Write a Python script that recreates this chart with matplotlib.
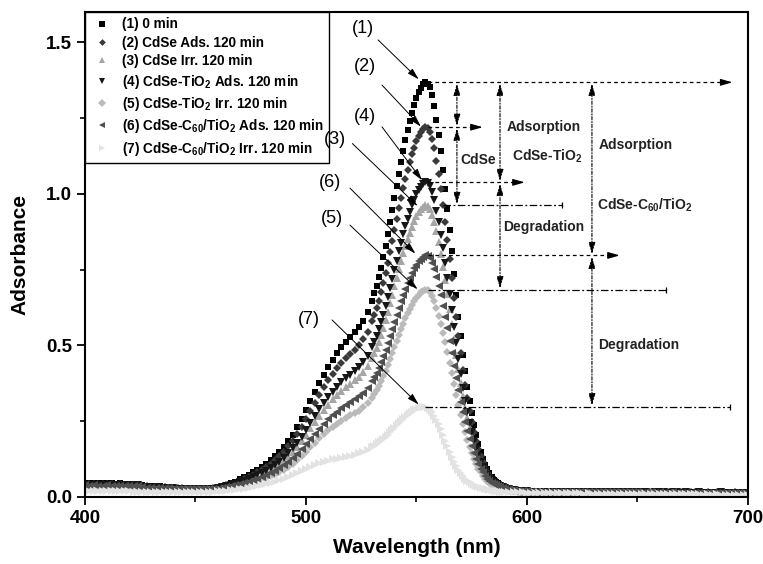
import numpy as np
import matplotlib
matplotlib.use("Agg")
import matplotlib.pyplot as plt

plt.rcParams['font.family'] = ['Liberation Sans', 'DejaVu Sans']
plt.rcParams['mathtext.fontset'] = 'custom'
plt.rcParams['mathtext.rm'] = 'Liberation Sans:bold'
plt.rcParams['mathtext.bf'] = 'Liberation Sans:bold'
plt.rcParams['mathtext.it'] = 'Liberation Sans:bold'

# wavelength grid: 2 nm steps, 1 nm across the band
wl = np.concatenate([np.arange(400, 530, 2), np.arange(530, 591, 1), np.arange(592, 701, 2)])

# (1) 0 min
c1 = ([0.046, 0.045, 0.046, 0.045, 0.045, 0.046, 0.045, 0.044, 0.045, 0.044, 0.044, 0.043, 0.043,
       0.038, 0.037, 0.036, 0.036, 0.035, 0.034, 0.033, 0.032, 0.031, 0.030, 0.030, 0.029]
      + [0.028, 0.028, 0.028, 0.029, 0.030, 0.033, 0.036, 0.040, 0.045, 0.051,
         0.058, 0.065, 0.073, 0.081, 0.090, 0.099, 0.109, 0.121, 0.134, 0.149,
         0.166, 0.185, 0.206, 0.230, 0.257, 0.286, 0.316, 0.346, 0.376, 0.404,
         0.430, 0.453, 0.474, 0.494, 0.512, 0.528, 0.544, 0.561, 0.582, 0.610]
      + [0.648, 0.672, 0.697, 0.726, 0.757, 0.792, 0.828, 0.867, 0.906, 0.947,
         0.987, 1.027, 1.067, 1.105, 1.142, 1.177, 1.210, 1.240, 1.268, 1.293,
         1.316, 1.335, 1.350, 1.362, 1.368, 1.364, 1.352, 1.325, 1.290, 1.245,
         1.195, 1.140, 1.080, 1.016, 0.950, 0.881, 0.810, 0.737, 0.665, 0.595,
         0.530, 0.470, 0.415, 0.364, 0.318, 0.276, 0.238, 0.204, 0.174, 0.148,
         0.126, 0.107, 0.091, 0.078, 0.066, 0.057, 0.050, 0.045, 0.040, 0.036, 0.033]
      + [0.028, 0.025, 0.023, 0.021, 0.020]
      + [0.019, 0.019, 0.018, 0.018, 0.018, 0.018, 0.018, 0.017, 0.018, 0.017,
         0.017, 0.017, 0.017, 0.016, 0.017, 0.017, 0.016, 0.016, 0.017, 0.016,
         0.016, 0.016, 0.016, 0.017, 0.016, 0.016, 0.015, 0.016, 0.016, 0.016,
         0.016, 0.015, 0.016, 0.016, 0.015, 0.015, 0.016, 0.015, 0.015, 0.015,
         0.015, 0.015, 0.016, 0.015, 0.015, 0.014, 0.015, 0.015, 0.014, 0.015])

# (2) CdSe Ads. 120 min
c2 = ([0.043, 0.042, 0.043, 0.042, 0.042, 0.043, 0.042, 0.041, 0.042, 0.041, 0.041, 0.040, 0.040,
       0.036, 0.035, 0.034, 0.034, 0.033, 0.032, 0.031, 0.030, 0.030, 0.029, 0.028, 0.028]
      + [0.027, 0.027, 0.027, 0.028, 0.029, 0.031, 0.034, 0.038, 0.042, 0.047,
         0.054, 0.060, 0.067, 0.074, 0.082, 0.090, 0.099, 0.110, 0.121, 0.135,
         0.150, 0.167, 0.185, 0.207, 0.231, 0.257, 0.283, 0.310, 0.337, 0.362,
         0.385, 0.405, 0.424, 0.442, 0.458, 0.472, 0.486, 0.501, 0.520, 0.545]
      + [0.579, 0.600, 0.622, 0.648, 0.676, 0.707, 0.739, 0.773, 0.808, 0.844,
         0.880, 0.916, 0.952, 0.986, 1.018, 1.049, 1.079, 1.106, 1.131, 1.153,
         1.173, 1.190, 1.204, 1.214, 1.220, 1.216, 1.205, 1.181, 1.150, 1.110,
         1.066, 1.016, 0.963, 0.906, 0.848, 0.786, 0.723, 0.658, 0.594, 0.532,
         0.474, 0.420, 0.371, 0.326, 0.285, 0.248, 0.214, 0.184, 0.157, 0.134,
         0.114, 0.097, 0.083, 0.071, 0.061, 0.053, 0.047, 0.042, 0.038, 0.034, 0.031]
      + [0.027, 0.024, 0.022, 0.020, 0.019]
      + [0.018, 0.018, 0.018, 0.017, 0.018, 0.017, 0.017, 0.017, 0.017, 0.016,
         0.017, 0.016, 0.016, 0.016, 0.016, 0.017, 0.016, 0.016, 0.016, 0.015,
         0.016, 0.015, 0.016, 0.016, 0.015, 0.016, 0.015, 0.015, 0.016, 0.015,
         0.015, 0.015, 0.015, 0.016, 0.015, 0.014, 0.015, 0.015, 0.015, 0.014,
         0.015, 0.014, 0.015, 0.015, 0.014, 0.014, 0.015, 0.014, 0.014, 0.014])

# (3) CdSe Irr. 120 min
c3 = ([0.033, 0.032, 0.033, 0.032, 0.032, 0.033, 0.032, 0.032, 0.032, 0.031, 0.031, 0.031, 0.030,
       0.028, 0.028, 0.027, 0.027, 0.027, 0.026, 0.026, 0.026, 0.025, 0.025, 0.025, 0.024]
      + [0.024, 0.024, 0.024, 0.025, 0.025, 0.028, 0.030, 0.032, 0.036, 0.040,
         0.045, 0.050, 0.056, 0.061, 0.067, 0.074, 0.081, 0.089, 0.098, 0.109,
         0.121, 0.134, 0.149, 0.165, 0.184, 0.205, 0.226, 0.247, 0.268, 0.287,
         0.305, 0.322, 0.336, 0.350, 0.363, 0.374, 0.385, 0.397, 0.412, 0.431]
      + [0.458, 0.474, 0.492, 0.512, 0.534, 0.558, 0.584, 0.611, 0.639, 0.667,
         0.695, 0.723, 0.751, 0.778, 0.804, 0.828, 0.851, 0.872, 0.892, 0.910,
         0.926, 0.939, 0.949, 0.957, 0.962, 0.959, 0.951, 0.931, 0.907, 0.876,
         0.841, 0.802, 0.760, 0.715, 0.669, 0.620, 0.571, 0.520, 0.470, 0.421,
         0.375, 0.333, 0.295, 0.259, 0.227, 0.198, 0.171, 0.148, 0.126, 0.109,
         0.093, 0.080, 0.068, 0.059, 0.051, 0.045, 0.039, 0.035, 0.032, 0.029, 0.027]
      + [0.024, 0.021, 0.019, 0.018, 0.017]
      + [0.016, 0.016, 0.016, 0.015, 0.015, 0.015, 0.015, 0.015, 0.014, 0.015,
         0.014, 0.014, 0.015, 0.014, 0.014, 0.014, 0.014, 0.013, 0.014, 0.014,
         0.014, 0.013, 0.014, 0.014, 0.013, 0.013, 0.014, 0.013, 0.013, 0.013,
         0.013, 0.013, 0.013, 0.012, 0.013, 0.013, 0.013, 0.012, 0.013, 0.012,
         0.012, 0.013, 0.012, 0.012, 0.012, 0.012, 0.012, 0.011, 0.012, 0.012])

# (4) CdSe-TiO2 Ads. 120 min
c4 = ([0.041, 0.040, 0.041, 0.040, 0.040, 0.041, 0.040, 0.039, 0.040, 0.039, 0.039, 0.038, 0.038,
       0.034, 0.033, 0.032, 0.032, 0.031, 0.030, 0.030, 0.029, 0.028, 0.028, 0.027, 0.027]
      + [0.026, 0.026, 0.026, 0.027, 0.028, 0.030, 0.032, 0.035, 0.039, 0.043,
         0.049, 0.054, 0.060, 0.066, 0.073, 0.080, 0.087, 0.096, 0.106, 0.117,
         0.130, 0.145, 0.160, 0.179, 0.199, 0.221, 0.243, 0.266, 0.289, 0.310,
         0.330, 0.347, 0.363, 0.378, 0.391, 0.404, 0.416, 0.428, 0.444, 0.465]
      + [0.494, 0.512, 0.531, 0.553, 0.576, 0.602, 0.630, 0.659, 0.689, 0.720,
         0.750, 0.780, 0.810, 0.839, 0.867, 0.893, 0.918, 0.941, 0.962, 0.981,
         0.998, 1.012, 1.024, 1.033, 1.038, 1.035, 1.026, 1.005, 0.979, 0.945,
         0.907, 0.865, 0.820, 0.772, 0.722, 0.670, 0.616, 0.561, 0.507, 0.455,
         0.405, 0.360, 0.318, 0.280, 0.245, 0.213, 0.185, 0.159, 0.136, 0.117,
         0.100, 0.086, 0.074, 0.064, 0.055, 0.049, 0.043, 0.039, 0.035, 0.032, 0.029]
      + [0.026, 0.023, 0.021, 0.020, 0.019]
      + [0.018, 0.017, 0.017, 0.017, 0.017, 0.016, 0.017, 0.016, 0.016, 0.016,
         0.016, 0.016, 0.015, 0.016, 0.016, 0.015, 0.016, 0.015, 0.015, 0.016,
         0.015, 0.015, 0.015, 0.015, 0.016, 0.015, 0.015, 0.014, 0.015, 0.015,
         0.015, 0.014, 0.015, 0.015, 0.014, 0.015, 0.014, 0.014, 0.015, 0.014,
         0.014, 0.014, 0.014, 0.015, 0.014, 0.014, 0.013, 0.014, 0.014, 0.014])

# (5) CdSe-TiO2 Irr. 120 min
c5 = ([0.028, 0.028, 0.028, 0.027, 0.028, 0.028, 0.027, 0.027, 0.027, 0.027, 0.026, 0.026, 0.026,
       0.025, 0.024, 0.024, 0.024, 0.023, 0.023, 0.023, 0.023, 0.022, 0.022, 0.022, 0.022]
      + [0.022, 0.022, 0.022, 0.022, 0.023, 0.024, 0.026, 0.028, 0.030, 0.033,
         0.037, 0.040, 0.044, 0.048, 0.053, 0.057, 0.062, 0.068, 0.074, 0.082,
         0.090, 0.100, 0.110, 0.122, 0.135, 0.149, 0.164, 0.179, 0.194, 0.208,
         0.221, 0.232, 0.242, 0.252, 0.261, 0.269, 0.277, 0.285, 0.296, 0.310]
      + [0.328, 0.339, 0.352, 0.366, 0.382, 0.399, 0.417, 0.436, 0.456, 0.476,
         0.496, 0.516, 0.535, 0.554, 0.572, 0.590, 0.606, 0.621, 0.635, 0.647,
         0.658, 0.667, 0.675, 0.681, 0.684, 0.682, 0.676, 0.662, 0.645, 0.623,
         0.598, 0.571, 0.542, 0.510, 0.477, 0.443, 0.408, 0.372, 0.337, 0.303,
         0.270, 0.240, 0.213, 0.188, 0.165, 0.145, 0.126, 0.109, 0.094, 0.081,
         0.070, 0.061, 0.053, 0.047, 0.041, 0.037, 0.033, 0.030, 0.028, 0.026, 0.024]
      + [0.021, 0.019, 0.018, 0.017, 0.016]
      + [0.015, 0.015, 0.015, 0.014, 0.015, 0.014, 0.014, 0.014, 0.014, 0.013,
         0.014, 0.013, 0.013, 0.013, 0.013, 0.013, 0.013, 0.012, 0.013, 0.012,
         0.012, 0.012, 0.012, 0.012, 0.012, 0.012, 0.011, 0.012, 0.012, 0.011,
         0.011, 0.011, 0.012, 0.011, 0.011, 0.011, 0.011, 0.011, 0.010, 0.011,
         0.011, 0.010, 0.011, 0.010, 0.010, 0.010, 0.010, 0.010, 0.010, 0.010])

# (6) CdSe-C60/TiO2 Ads. 120 min
c6 = ([0.038, 0.037, 0.038, 0.037, 0.037, 0.038, 0.037, 0.036, 0.037, 0.036, 0.036, 0.035, 0.035,
       0.032, 0.031, 0.031, 0.030, 0.030, 0.029, 0.029, 0.028, 0.027, 0.027, 0.026, 0.026]
      + [0.025, 0.025, 0.025, 0.026, 0.026, 0.028, 0.030, 0.032, 0.035, 0.038,
         0.042, 0.046, 0.051, 0.056, 0.061, 0.066, 0.072, 0.079, 0.086, 0.095,
         0.104, 0.115, 0.128, 0.141, 0.157, 0.174, 0.191, 0.208, 0.225, 0.242,
         0.257, 0.270, 0.282, 0.293, 0.304, 0.313, 0.322, 0.332, 0.344, 0.360]
      + [0.382, 0.395, 0.410, 0.427, 0.445, 0.465, 0.486, 0.508, 0.531, 0.554,
         0.577, 0.600, 0.623, 0.645, 0.667, 0.687, 0.706, 0.723, 0.739, 0.754,
         0.767, 0.777, 0.786, 0.793, 0.797, 0.795, 0.788, 0.772, 0.752, 0.726,
         0.697, 0.665, 0.631, 0.594, 0.556, 0.516, 0.475, 0.433, 0.392, 0.352,
         0.314, 0.280, 0.248, 0.219, 0.192, 0.168, 0.146, 0.127, 0.109, 0.094,
         0.081, 0.070, 0.061, 0.053, 0.047, 0.042, 0.038, 0.035, 0.032, 0.030, 0.028]
      + [0.025, 0.023, 0.021, 0.020, 0.019]
      + [0.018, 0.018, 0.017, 0.017, 0.017, 0.017, 0.016, 0.017, 0.016, 0.016,
         0.016, 0.016, 0.016, 0.015, 0.016, 0.016, 0.015, 0.015, 0.016, 0.015,
         0.015, 0.015, 0.015, 0.015, 0.015, 0.014, 0.015, 0.015, 0.014, 0.015,
         0.014, 0.014, 0.015, 0.014, 0.014, 0.014, 0.014, 0.014, 0.013, 0.014,
         0.014, 0.013, 0.014, 0.014, 0.013, 0.013, 0.014, 0.013, 0.013, 0.013])

# (7) CdSe-C60/TiO2 Irr. 120 min
c7 = ([0.020, 0.020, 0.020, 0.020, 0.019, 0.020, 0.019, 0.019, 0.019, 0.019, 0.019, 0.018, 0.018,
       0.018, 0.018, 0.018, 0.018, 0.018, 0.017, 0.017, 0.017, 0.017, 0.017, 0.017, 0.017]
      + [0.017, 0.017, 0.017, 0.018, 0.018, 0.019, 0.020, 0.021, 0.022, 0.024,
         0.026, 0.028, 0.030, 0.033, 0.036, 0.039, 0.043, 0.047, 0.051, 0.056,
         0.061, 0.067, 0.073, 0.079, 0.086, 0.093, 0.100, 0.106, 0.111, 0.116,
         0.120, 0.124, 0.127, 0.130, 0.133, 0.136, 0.140, 0.144, 0.149, 0.156]
      + [0.164, 0.169, 0.174, 0.180, 0.186, 0.192, 0.199, 0.206, 0.213, 0.220,
         0.228, 0.236, 0.243, 0.250, 0.257, 0.264, 0.270, 0.276, 0.281, 0.286,
         0.290, 0.293, 0.296, 0.298, 0.298, 0.294, 0.288, 0.279, 0.268, 0.255,
         0.240, 0.223, 0.205, 0.186, 0.168, 0.150, 0.133, 0.117, 0.103, 0.090,
         0.079, 0.069, 0.061, 0.054, 0.048, 0.044, 0.040, 0.037, 0.034, 0.031,
         0.029, 0.027, 0.025, 0.023, 0.022, 0.021, 0.020, 0.019, 0.018, 0.018, 0.017]
      + [0.016, 0.016, 0.015, 0.015, 0.014]
      + [0.014, 0.013, 0.013, 0.013, 0.013, 0.012, 0.013, 0.012, 0.012, 0.012,
         0.012, 0.012, 0.011, 0.012, 0.011, 0.011, 0.011, 0.011, 0.011, 0.010,
         0.011, 0.010, 0.010, 0.010, 0.010, 0.010, 0.010, 0.009, 0.010, 0.010,
         0.009, 0.009, 0.010, 0.009, 0.009, 0.009, 0.009, 0.009, 0.009, 0.008,
         0.009, 0.008, 0.009, 0.008, 0.008, 0.008, 0.008, 0.008, 0.008, 0.008])

series = [np.array(c) for c in (c1, c2, c3, c4, c5, c6, c7)]
for s in series:
    assert len(s) == len(wl), len(s)

labels = ['(1) 0 min',
          '(2) CdSe Ads. 120 min',
          '(3) CdSe Irr. 120 min',
          '(4) CdSe-TiO$_2$ Ads. 120 min',
          '(5) CdSe-TiO$_2$ Irr. 120 min',
          '(6) CdSe-C$_{60}$/TiO$_2$ Ads. 120 min',
          '(7) CdSe-C$_{60}$/TiO$_2$ Irr. 120 min']
markers = ['s', 'D', '^', 'v', 'D', '<', '>']
sizes = [4.4, 4.0, 5.2, 5.2, 4.4, 5.2, 5.2]
colors = ['#000000', '#3a3a3a', '#a6a6a6', '#161616', '#bababa', '#505050', '#e2e2e2']

fig = plt.figure(figsize=(7.63, 5.64), dpi=100)
ax = fig.add_axes([0.1114, 0.1188, 0.8689, 0.8599])

for s, m, ms, col, lab in zip(series, markers, sizes, colors, labels):
    ax.plot(wl, s, linestyle='none', marker=m, markersize=ms, color=col,
            markeredgewidth=0, label=lab)

ax.set_xlim(400, 700)
ax.set_ylim(0, 1.6)
ax.set_xticks([400, 500, 600, 700])
ax.set_xticks([450, 550, 650], minor=True)
ax.set_yticks([0.0, 0.5, 1.0, 1.5])
ax.set_yticks([0.25, 0.75, 1.25], minor=True)
ax.set_yticklabels(['0.0', '0.5', '1.0', '1.5'])
ax.tick_params(which='major', direction='out', length=6, width=1.3, labelsize=13.5)
ax.tick_params(which='minor', direction='out', length=3.5, width=1.2)
for t in ax.get_xticklabels() + ax.get_yticklabels():
    t.set_fontweight('bold')
for sp in ax.spines.values():
    sp.set_linewidth(1.5)

ax.set_xlabel('Wavelength (nm)', fontsize=15, fontweight='bold', labelpad=8)
ax.set_ylabel('Adsorbance', fontsize=15, fontweight='bold', labelpad=12)

leg = ax.legend(loc='upper left', bbox_to_anchor=(0, 1), borderaxespad=0,
                fancybox=False, edgecolor='black', framealpha=1,
                prop={'weight': 'bold', 'size': 9.8}, handlelength=1.7,
                handletextpad=0.6, borderpad=0.4, labelspacing=0.32, numpoints=1,
                markerscale=0.85)
leg.get_frame().set_linewidth(1.0)
leg.set_zorder(4)

# peak levels taken from the curves
pk = [s.max() for s in series]
pw = [wl[np.argmax(s)] for s in series]

dash = (0, (3, 2.5))
dashdot = (0, (6, 2, 1.5, 2))
head = dict(arrowstyle='-|>,head_length=0.7,head_width=0.2', color='black',
            lw=0.9, shrinkA=0, shrinkB=0, mutation_scale=10)

# dashed lines with arrows at the adsorption peaks
for i, xend in [(0, 690), (1, 577), (3, 596), (5, 639)]:
    ax.plot([pw[i] + 1, xend], [pk[i], pk[i]], color='black', lw=0.9, linestyle=dash)
    ax.annotate('', xy=(xend + 3, pk[i]), xytext=(xend - 2, pk[i]), arrowprops=head)

# dash-dot lines at the irradiated peaks
for i, x0, xend in [(2, 562, 616), (4, pw[4] + 1, 663), (6, pw[6] + 1, 692)]:
    ax.plot([x0, xend], [pk[i], pk[i]], color='black', lw=0.9, linestyle=dashdot)
    ax.plot([xend], [pk[i]], marker='|', markersize=5, color='black', mew=0.9)

# vertical double arrows
vstyle = dict(arrowstyle='<|-|>,head_length=0.7,head_width=0.2', color='black',
              lw=0.8, shrinkA=0, shrinkB=0, mutation_scale=10,
              linestyle=(0, (3, 1.5, 1, 1.5)))
for x, top, bot in [(568.3, 0, 1), (568.3, 1, 2), (587.8, 0, 3), (587.8, 3, 4),
                    (629.4, 0, 5), (629.4, 5, 6)]:
    ax.annotate('', xy=(x, pk[top] - 0.004), xytext=(x, pk[bot] + 0.004),
                arrowprops=vstyle)

# pointer labels
ptr = dict(arrowstyle='-|>,head_length=0.7,head_width=0.2', color='black',
           lw=0.7, shrinkA=0, shrinkB=0, mutation_scale=10)
pointers = [('(1)', (525.8, 1.547), (532.6, 1.508), (551.0, 1.378)),
            ('(2)', (526.7, 1.419), (534.4, 1.359), (552.0, 1.222)),
            ('(4)', (526.7, 1.254), (534.4, 1.221), (552.5, 1.045)),
            ('(3)', (513.0, 1.178), (521.0, 1.166), (550.5, 0.960)),
            ('(6)', (510.9, 1.039), (519.9, 1.019), (549.5, 0.803)),
            ('(5)', (511.8, 0.920), (519.9, 0.897), (550.5, 0.685)),
            ('(7)', (501.4, 0.584), (511.8, 0.584), (551.0, 0.305))]
for txt, tpos, a0, a1 in pointers:
    ax.text(tpos[0], tpos[1], txt, fontsize=13, ha='center', va='center', zorder=6)
    ax.annotate('', xy=a1, xytext=a0, arrowprops=ptr)

notes = [('CdSe', 569.7, 1.112),
         ('Adsorption', 590.9, 1.222),
         ('CdSe-TiO$_2$', 593.2, 1.123),
         ('Degradation', 589.1, 0.892),
         ('Adsorption', 632.6, 1.161),
         ('CdSe-C$_{60}$/TiO$_2$', 631.7, 0.963),
         ('Degradation', 632.1, 0.501)]
for txt, x, y in notes:
    ax.text(x, y, txt, fontsize=10, fontweight='bold', ha='left', va='center',
            color='#222222')

fig.savefig('out.png', dpi=100)
